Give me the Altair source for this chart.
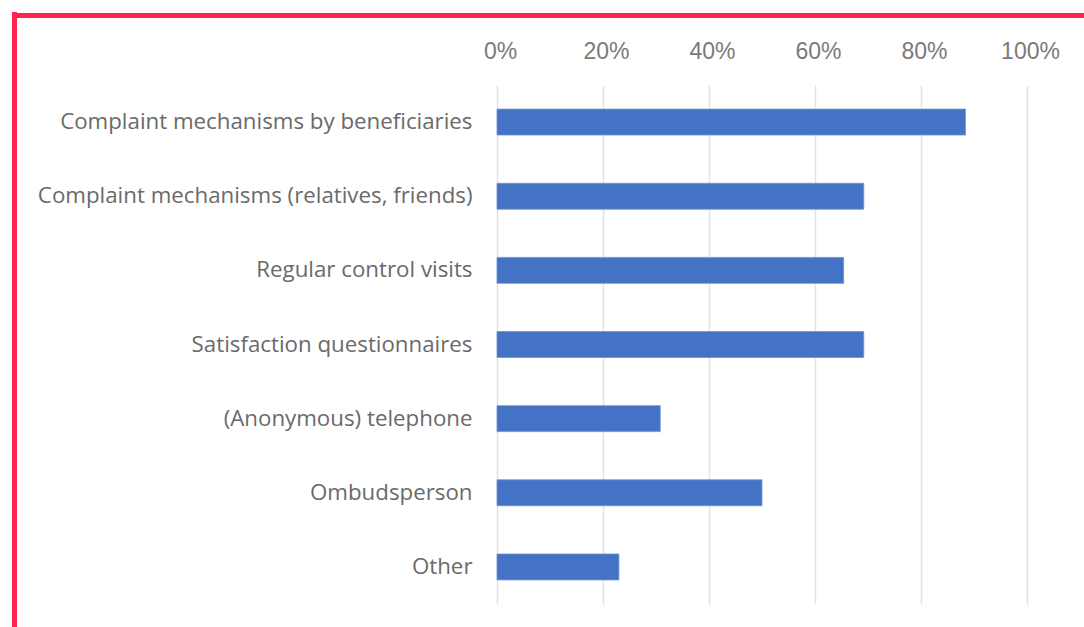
import altair as alt
import pandas as pd

categories = [
    "Complaint mechanisms by beneficiaries",
    "Complaint mechanisms (relatives, friends)",
    "Regular control visits",
    "Satisfaction questionnaires",
    "(Anonymous) telephone",
    "Ombudsperson",
    "Other",
]
values = [0.884, 0.692, 0.654, 0.692, 0.308, 0.500, 0.230]
tick_values = [0, 0.2, 0.4, 0.6, 0.8, 1.0]

df = pd.DataFrame({"category": categories, "value": values})

W, H = 530, 519
LEFT, TOP = 497, 85

bars = alt.Chart(df).mark_bar(color="#4472C4", stroke="#6E93D6", strokeWidth=0.8).encode(
    x=alt.X(
        "value:Q",
        scale=alt.Scale(domain=[0, 1], nice=False, zero=True),
        axis=alt.Axis(
            orient="top",
            format=".0%",
            values=tick_values,
            domain=False,
            ticks=False,
            grid=True,
            gridColor="#E3E3E3",
            gridWidth=1.5,
            labelFont="Liberation Sans",
            labelFontSize=23,
            labelColor="#7A7A7A",
            labelPadding=22,
            labelOffset=3,
            labelFlush=False,
            labelOverlap=False,
            title=None,
        ),
    ),
    y=alt.Y(
        "category:N",
        sort=categories,
        scale=alt.Scale(paddingInner=0.65, paddingOuter=0.325),
        axis=alt.Axis(
            domain=False,
            ticks=False,
            grid=False,
            labelFont="Open Sans",
            labelFontSize=22.3,
            labelColor="#6A6A6A",
            labelPadding=25,
            labelLimit=500,
            title=None,
        ),
    ),
)

border_color = "#FF2350"
frame_left = alt.Chart(df).mark_rule(color=border_color, strokeWidth=5).encode(
    x=alt.value(14.5 - LEFT), y=alt.value(12.5 - TOP), y2=alt.value(700)
)
frame_top = alt.Chart(df).mark_rule(color=border_color, strokeWidth=5).encode(
    x=alt.value(12 - LEFT), x2=alt.value(1200), y=alt.value(15.5 - TOP)
)

chart = (
    alt.layer(bars, frame_left, frame_top)
    .properties(
        width=W,
        height=H,
        background="white",
        autosize=alt.AutoSizeParams(type="none"),
        padding={"left": LEFT, "top": TOP, "right": 1084 - LEFT - W, "bottom": 627 - TOP - H},
    )
    .configure_view(strokeWidth=0, strokeOpacity=0)
)

chart.save("out.html", embed_options={"renderer": "svg", "actions": False})
